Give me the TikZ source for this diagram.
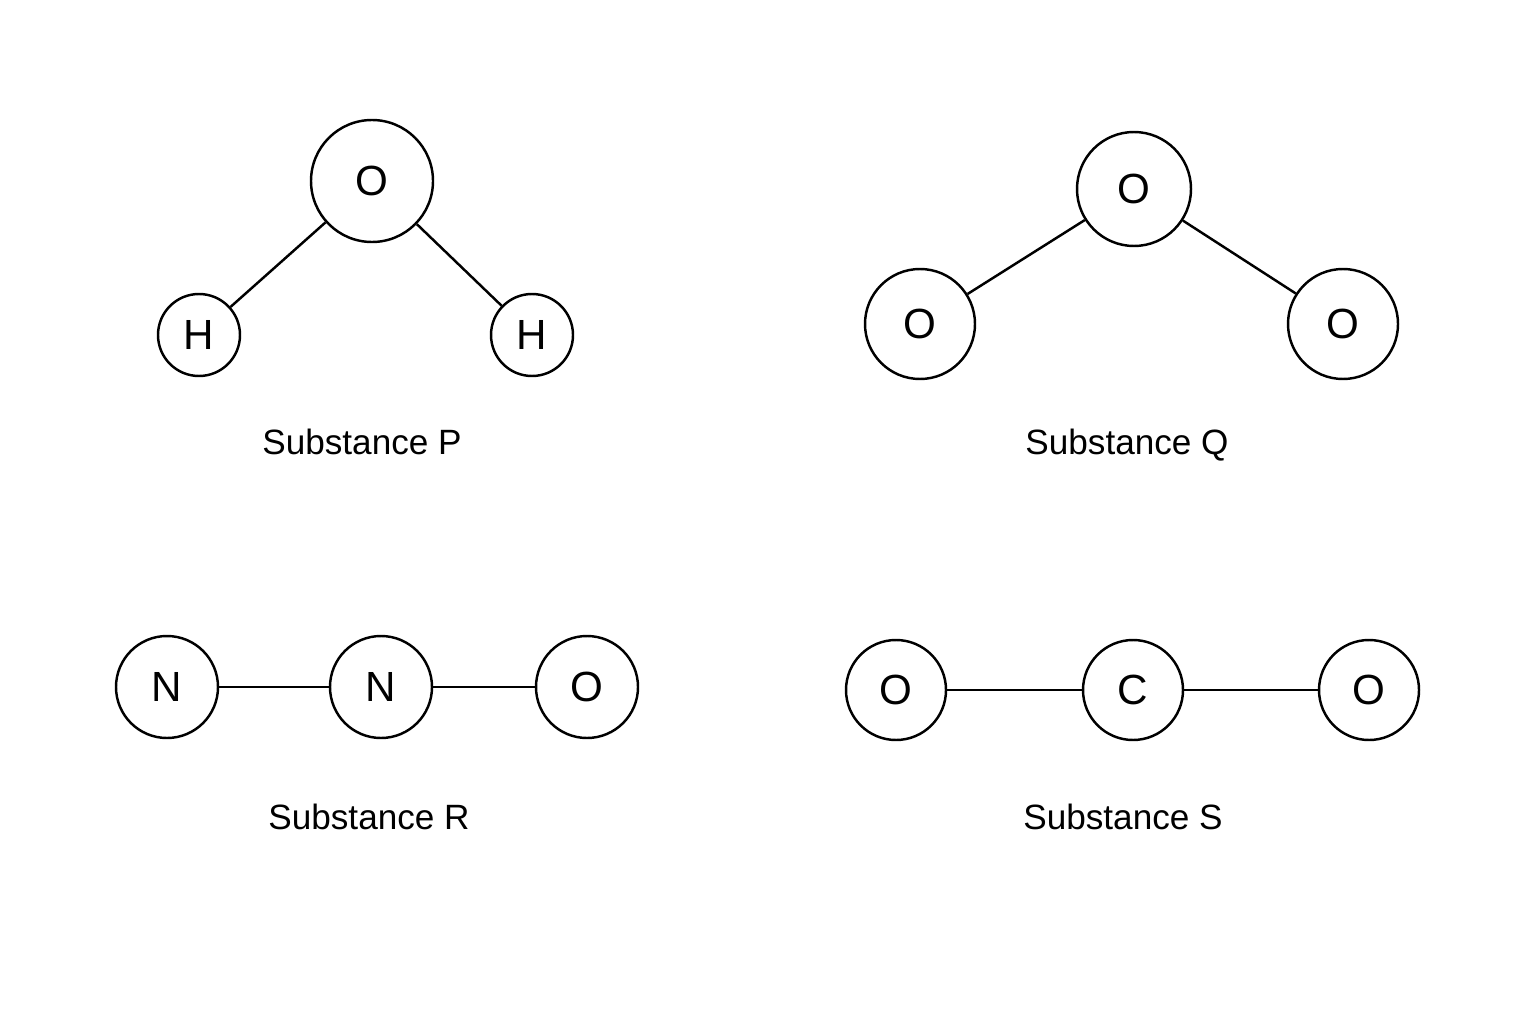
\documentclass[tikz,border=0pt]{standalone}
\usepackage{fontspec}
\setmainfont{Liberation Sans}
\begin{document}
\begin{tikzpicture}[x=1cm,y=1cm,
  atom/.style={circle, draw, line width=0.7pt, inner sep=0pt, font=\fontsize{12}{14}\selectfont},
  bond/.style={line width=0.7pt},
  caption/.style={anchor=base, font=\fontsize{10}{12}\selectfont}]
\useasboundingbox (0,0) rectangle (15.36,10.24);

% Substance P
\node[atom, minimum size=1.22cm] (pO) at (3.72,8.43) {O};
\node[atom, minimum size=0.82cm] (pH1) at (1.99,6.89) {H};
\node[atom, minimum size=0.82cm] (pH2) at (5.32,6.89) {H};
\draw[bond] (pO) -- (pH1);
\draw[bond] (pO) -- (pH2);
\node[caption] (pLabel) at (3.62,5.70) {Substance P};

% Substance Q
\node[atom, minimum size=1.14cm] (qO) at (11.34,8.35) {O};
\node[atom, minimum size=1.10cm] (qO1) at (9.20,7.00) {O};
\node[atom, minimum size=1.10cm] (qO2) at (13.43,7.00) {O};
\draw[bond] (qO) -- (qO1);
\draw[bond] (qO) -- (qO2);
\node[caption] (qLabel) at (11.27,5.70) {Substance Q};

% Substance R
\node[atom, minimum size=1.02cm] (rN1) at (1.67,3.37) {N};
\node[atom, minimum size=1.02cm] (rN2) at (3.81,3.37) {N};
\node[atom, minimum size=1.02cm] (rO) at (5.87,3.37) {O};
\draw[bond] (rN1) -- (rN2);
\draw[bond] (rN2) -- (rO);
\node[caption] (rLabel) at (3.69,1.95) {Substance R};

% Substance S
\node[atom, minimum size=1.00cm] (sO1) at (8.96,3.34) {O};
\node[atom, minimum size=1.00cm] (sC) at (11.33,3.34) {C};
\node[atom, minimum size=1.00cm] (sO2) at (13.69,3.34) {O};
\draw[bond] (sO1) -- (sC);
\draw[bond] (sC) -- (sO2);
\node[caption] (sLabel) at (11.23,1.95) {Substance S};
\end{tikzpicture}
\end{document}
